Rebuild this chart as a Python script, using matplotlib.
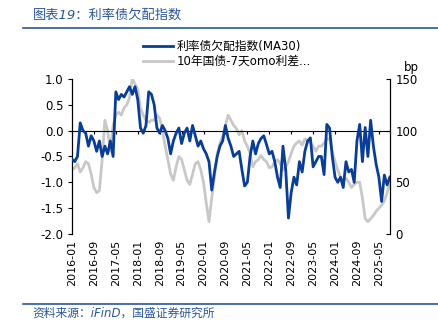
import numpy as np
import pandas as pd
import matplotlib
matplotlib.use('Agg')
import matplotlib.pyplot as plt

plt.rcParams['font.family'] = ['DejaVu Sans', 'Noto Sans CJK SC']
plt.rcParams['axes.unicode_minus'] = False

dates = pd.date_range('2016-01-01', periods=117, freq='MS')

# 利率债欠配指数(MA30), left axis
index_ma30 = [
    -0.55, -0.6, -0.5, 0.15, 0.0, -0.05, -0.3, -0.1, -0.2, -0.4, -0.2, -0.5, -0.3, -0.45, -0.2, -0.5,
    0.75, 0.6, 0.7, 0.65, 0.75, 0.85, 0.7, 0.85, 0.6, 0.05, -0.05, 0.1, 0.75, 0.7, 0.5,
    0.05, -0.05, 0.1, 0.0, -0.15, -0.45, -0.2, -0.05, 0.05, -0.25, -0.05, 0.05, -0.2, 0.1,
    -0.1, -0.3, -0.2, -0.35, -0.45, -0.6, -1.15, -0.8, -0.5, -0.3, -0.2, 0.1, -0.15, -0.3,
    -0.5, -0.45, -0.4, -0.75, -1.07, -1.0, -0.5, -0.2, -0.45, -0.25, -0.15, -0.1, -0.27, -0.45,
    -0.4, -0.6, -0.9, -1.1, -0.3, -0.75, -1.69, -1.2, -0.9, -1.05, -0.6, -0.8, -0.4, -0.2, -0.14,
    -0.7, -0.6, -0.5, -0.5, -0.85, 0.12, 0.05, -0.5, -0.9, -1.0, -0.9, -1.1, -0.6, -0.8, -0.75,
    -1.0, -0.2, 0.12, -0.6, 0.06, -0.5, 0.2, -0.3, -0.65, -0.9, -1.37, -0.86, -1.05, -0.9,
]

# 10年国债-7天omo利差 (bp), right axis
spread_bp = [
    62, 64, 68, 60, 64, 70, 68, 58, 45, 40, 42, 72,
    110, 100, 80, 105, 115, 118, 115, 122, 125, 132, 150, 145, 140, 122, 115, 110, 108, 110,
    110, 115, 112, 100, 85, 72, 58, 52, 65, 75, 72, 62, 52, 48, 58, 68, 70, 62, 50, 30, 12,
    35, 55, 78, 88, 95, 105, 115, 110,
    105, 102, 96, 100, 90, 85, 78, 65, 70, 72, 76, 72, 70, 64, 65, 70, 72, 68, 62, 65, 70,
    78, 85, 88, 90, 86, 92, 90, 88, 85,
    80, 85, 85, 88, 92, 92, 80, 70, 62, 55, 51, 54, 50, 45, 48, 50, 50, 35, 15, 12, 15, 18,
    22, 25, 28, 32, 40, 50,
]

tick_step = 8
blue = '#0A3D96'
grey = '#C8C8C8'
head_blue = '#2A569E'

x = np.arange(len(dates))
ticks = x[::tick_step]
tick_labels = [d.strftime('%Y-%m') for d in dates[::tick_step]]

fig = plt.figure(figsize=(4.39, 3.26), dpi=100)
ax = fig.add_axes([0.164, 0.282, 0.724, 0.476])
ax2 = ax.twinx()

l1, = ax.plot(x, index_ma30, color=blue, lw=2.0, zorder=3)
l2, = ax2.plot(x, spread_bp, color=grey, lw=2.0, zorder=2)
ax.set_zorder(ax2.get_zorder() + 1)
ax.patch.set_visible(False)

ax.set_ylim(-2.0, 1.0)
ax.set_yticks(np.arange(-2.0, 1.01, 0.5))
ax.set_yticklabels(['%.1f' % v for v in np.arange(-2.0, 1.01, 0.5)])
ax2.set_ylim(0, 150)
ax2.set_yticks([0, 50, 100, 150])
ax.set_xlim(x[0], x[-1])

for a in (ax, ax2):
    a.spines['top'].set_visible(False)
    a.spines['bottom'].set_visible(False)
    a.spines['left'].set_linewidth(0.8)
    a.spines['right'].set_linewidth(0.8)

ax.tick_params(axis='y', direction='out', length=3, width=0.8, labelsize=8.5, pad=3)
ax2.tick_params(axis='y', direction='in', length=3, width=0.8, labelsize=8.5, pad=4)

ax.set_xticks(ticks)
ax.set_xticklabels(tick_labels, rotation=90, fontsize=8)
ax.tick_params(axis='x', length=0, pad=4)

# zero line with tick marks, Excel style
sec = ax.secondary_xaxis(2 / 3)
sec.set_xticks(ticks)
sec.xaxis.set_ticks_position('bottom')
sec.tick_params(axis='x', direction='out', length=2.5, width=0.8, labelbottom=False, labeltop=False)
sec.spines['bottom'].set_linewidth(0.9)

ax2.text(1.045, 1.03, 'bp', transform=ax2.transAxes, fontsize=8.5, ha='left', va='bottom')

fig.legend([l1, l2], ['利率债欠配指数(MA30)', '10年国债-7天omo利差...'],
           loc='upper left', bbox_to_anchor=(0.325, 0.878), frameon=False,
           fontsize=8.5, handlelength=2.6, handletextpad=0.3, labelspacing=0.2,
           borderaxespad=0, borderpad=0)

fig.text(0.075, 0.955, '图表19：利率债欠配指数', fontsize=9.5, color=head_blue,
         ha='left', va='center', style='italic')
fig.add_artist(plt.Line2D([0.052, 1.0], [0.913, 0.913], color=head_blue, lw=1.2))
fig.add_artist(plt.Line2D([0.052, 0.998], [0.068, 0.068], color=head_blue, lw=1.2))
fig.text(0.075, 0.038, '资料来源：iFinD，国盛证券研究所', fontsize=8.5, color=head_blue,
         ha='left', va='center', style='italic')

fig.savefig('out.png', dpi=100)
